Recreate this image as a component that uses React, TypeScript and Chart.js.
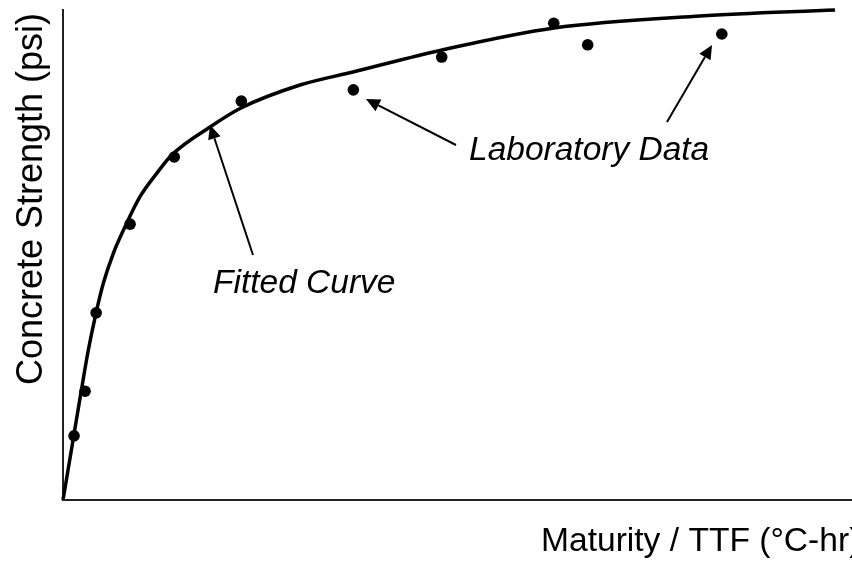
import React, { useEffect, useRef } from "react";
import { Chart, registerables } from "chart.js";

Chart.register(...registerables);

// Laboratory data (maturity units, strength units; arbitrary 0-100 scale)
const labMaturity = [1.4, 2.8, 4.2, 8.5, 14.1, 22.6, 36.8, 48.0, 62.2, 66.5, 83.5];
const labStrength = [13.1, 22.2, 38.2, 56.3, 70.0, 81.4, 83.7, 90.4, 97.3, 92.9, 95.1];

// Fitted curve
const curveMaturity = [0, 1.36, 2.31, 3.21, 4.18, 5.11, 6.38, 7.86, 9.76, 11.88, 13.78, 18.63, 22.56, 30.04, 36.76, 48.04, 62.23, 80.74, 97.85];
const curveStrength = [0, 13.06, 22.24, 30.61, 38.1, 44.22, 50.35, 55.78, 61.9, 66.67, 70.41, 76.12, 80.0, 84.69, 87.35, 91.84, 96.33, 98.78, 100];

const xTitle = "Maturity / TTF (°C-hr)";
const yTitle = "Concrete Strength (psi)";

// Annotations (data coordinates)
const arrows = [
  { from: [24.08, 50.0], to: [18.63, 76.53] },
  { from: [49.81, 72.45], to: [38.4, 81.84] },
  { from: [76.55, 77.14], to: [82.26, 92.86] },
];
const labels = [
  { text: "Fitted Curve", at: [19.01, 42.24] },
  { text: "Laboratory Data", at: [51.46, 69.39] },
];

const FONT = '"Liberation Sans", Arial, sans-serif';

const annotationPlugin = {
  id: "annot",
  afterDraw(chart: any) {
    const ctx = chart.ctx;
    const xs = chart.scales.x;
    const ys = chart.scales.y;
    ctx.save();
    ctx.strokeStyle = "#000";
    ctx.fillStyle = "#000";
    ctx.lineWidth = 2;
    arrows.forEach((a) => {
      const x1 = xs.getPixelForValue(a.from[0]);
      const y1 = ys.getPixelForValue(a.from[1]);
      const x2 = xs.getPixelForValue(a.to[0]);
      const y2 = ys.getPixelForValue(a.to[1]);
      const ang = Math.atan2(y2 - y1, x2 - x1);
      const hl = 14;
      const hw = 6.5;
      const bx = x2 - hl * Math.cos(ang);
      const by = y2 - hl * Math.sin(ang);
      ctx.beginPath();
      ctx.moveTo(x1, y1);
      ctx.lineTo(bx, by);
      ctx.stroke();
      ctx.beginPath();
      ctx.moveTo(x2, y2);
      ctx.lineTo(bx + hw * Math.sin(ang), by - hw * Math.cos(ang));
      ctx.lineTo(bx - hw * Math.sin(ang), by + hw * Math.cos(ang));
      ctx.closePath();
      ctx.fill();
    });
    ctx.font = "italic 33.5px " + FONT;
    ctx.textAlign = "left";
    ctx.textBaseline = "alphabetic";
    labels.forEach((l) => {
      ctx.fillText(l.text, xs.getPixelForValue(l.at[0]), ys.getPixelForValue(l.at[1]));
    });
    // axis titles
    ctx.font = "33.6px " + FONT;
    ctx.fillText(xTitle, 541, 551);
    ctx.save();
    ctx.translate(42, 199);
    ctx.rotate(-Math.PI / 2);
    ctx.font = "36px " + FONT;
    ctx.textAlign = "center";
    ctx.fillText(yTitle, 0, 0);
    ctx.restore();
    ctx.restore();
  },
};

export default function App() {
  const ref = useRef<HTMLCanvasElement>(null);
  useEffect(() => {
    if (!ref.current) return;
    const chart = new Chart(ref.current, {
      type: "scatter",
      data: {
        datasets: [
          {
            type: "line",
            label: "Fitted Curve",
            data: curveMaturity.map((x, i) => ({ x, y: curveStrength[i] })),
            borderColor: "#000",
            borderWidth: 3.5,
            pointRadius: 0,
            cubicInterpolationMode: "monotone",
            fill: false,
            clip: false,
          } as any,
          {
            label: "Laboratory Data",
            data: labMaturity.map((x, i) => ({ x, y: labStrength[i] })),
            backgroundColor: "#000",
            borderColor: "#000",
            pointRadius: 5.8,
            pointBorderWidth: 0,
            clip: false,
          } as any,
        ],
      },
      options: {
        responsive: false,
        maintainAspectRatio: false,
        animation: false,
        layout: { autoPadding: false, padding: { left: 63, top: 10, right: 0, bottom: 61 } },
        plugins: { legend: { display: false }, tooltip: { enabled: false } },
        scales: {
          x: {
            type: "linear",
            min: 0,
            max: 100,
            ticks: { display: false },
            grid: { display: true, drawOnChartArea: false, drawTicks: false },
            border: { display: true, color: "#222", width: 2 },
            title: { display: false },
          },
          y: {
            type: "linear",
            min: 0,
            max: 100,
            ticks: { display: false },
            grid: { display: true, drawOnChartArea: false, drawTicks: false },
            border: { display: true, color: "#222", width: 2 },
            title: { display: false },
          },
        },
      },
      plugins: [annotationPlugin],
    });
    return () => chart.destroy();
  }, []);
  return (
    <div style={{ position: "absolute", left: 0, top: 0, width: 852, height: 561, background: "#fff" }}>
      <canvas ref={ref} width={852} height={561} style={{ display: "block" }} />
    </div>
  );
}
